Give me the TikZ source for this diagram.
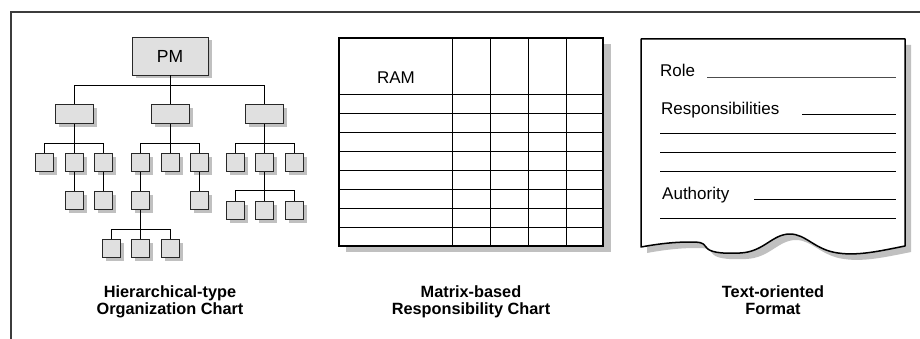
\documentclass[tikz,border=0pt]{standalone}
\usepackage{fontspec}
\setmainfont{Liberation Sans}
\usetikzlibrary{positioning,shadows}
\definecolor{boxgray}{RGB}{224,224,224}
\definecolor{shadowgray}{RGB}{192,192,192}
\definecolor{framegray}{RGB}{60,60,60}
\definecolor{edgegray}{RGB}{40,40,40}

\tikzset{
  orgbox/.style={draw=edgegray, fill=boxgray, line width=0.9pt, inner sep=0pt,
    minimum width=18pt, minimum height=18pt,
    general shadow={fill=shadowgray, shadow xshift=3.5pt, shadow yshift=-3.5pt}},
  midbox/.style={orgbox, minimum width=38pt, minimum height=19pt},
  pmbox/.style={orgbox, minimum width=76pt, minimum height=38pt,
    font=\fontsize{17.5}{20}\selectfont},
  conn/.style={line width=0.9pt},
  formtext/.style={anchor=base west, inner sep=0pt, font=\fontsize{17}{20}\selectfont},
  formline/.style={line width=0.9pt},
  caption/.style={align=center, anchor=base, inner sep=0pt,
    font=\fontsize{16.3}{17}\selectfont\bfseries}
}

% bottom edge of the sheet is torn
\def\sheetpath{(641,39) -- (905,39) -- (905,246)
  .. controls (880,251) and (858,256) .. (838,253)
  .. controls (815,250) and (806,234) .. (790,234)
  .. controls (772,234) and (764,252) .. (740,253)
  .. controls (720,254) and (709,252) .. (706,247)
  .. controls (703,242) and (699,242) .. (690,242)
  .. controls (670,242) and (652,245) .. (641,247) -- cycle}

\begin{document}
\begin{tikzpicture}[x=1pt, y=-1pt]
    \useasboundingbox (0,0) rectangle (920,339);
    \draw[framegray, line width=2pt] (920,12) -- (11,12) -- (11,339);

    % organization chart
    \node[pmbox] (pm) at (170,56) {PM};
    \node[midbox, below=29pt of pm] (mb) {};
    \node[midbox, left=57pt of mb] (ma) {};
    \node[midbox, right=56pt of mb] (mc) {};

    \node[orgbox, below=29pt of ma] (a2) {};
    \node[orgbox, left=10.5pt of a2] (a1) {};
    \node[orgbox, right=10.5pt of a2] (a3) {};
    \node[orgbox, below=19pt of a2] (a2s) {};
    \node[orgbox, below=19pt of a3] (a3s) {};

    \node[orgbox, below=29pt of mb] (b2) {};
    \node[orgbox, left=10.5pt of b2] (b1) {};
    \node[orgbox, right=10.5pt of b2] (b3) {};
    \node[orgbox, below=19pt of b1] (b1s) {};
    \node[orgbox, below=19pt of b3] (b3s) {};
    \node[orgbox, below=29pt of b1s] (b5) {};
    \node[orgbox, left=10.5pt of b5] (b4) {};
    \node[orgbox, right=10.5pt of b5] (b6) {};

    \node[orgbox, below=29pt of mc] (c2) {};
    \node[orgbox, left=10.5pt of c2] (c1) {};
    \node[orgbox, right=10.5pt of c2] (c3) {};
    \node[orgbox, below=29pt of c2] (c5) {};
    \node[orgbox, left=10.5pt of c5] (c4) {};
    \node[orgbox, right=10.5pt of c5] (c6) {};

    \draw[conn] (pm) -- (mb);
    \draw[conn] (ma.north) -- ++(0,-19) -| (mc.north);
    \draw[conn] (ma) -- (a2);
    \draw[conn] (a1.north) -- ++(0,-10) -| (a3.north);
    \draw[conn] (a2) -- (a2s);
    \draw[conn] (a3) -- (a3s);
    \draw[conn] (mb) -- (b2);
    \draw[conn] (b1.north) -- ++(0,-10) -| (b3.north);
    \draw[conn] (b1) -- (b1s);
    \draw[conn] (b3) -- (b3s);
    \draw[conn] (b1s) -- (b5);
    \draw[conn] (b4.north) -- ++(0,-10) -| (b6.north);
    \draw[conn] (mc) -- (c2);
    \draw[conn] (c1.north) -- ++(0,-10) -| (c3.north);
    \draw[conn] (c2) -- (c5);
    \draw[conn] (c4.north) -- ++(0,-11) -| (c6.north);

    % responsibility matrix
    \fill[shadowgray] (346,44) rectangle (611,252);
    \draw[fill=white, line width=1.8pt] (339,38) rectangle (603,246);
    \foreach \yy in {94,113,...,227}
        \draw[formline] (339,\yy) -- (603,\yy);
    \foreach \xx in {452,490,528,566}
        \draw[formline] (\xx,38) -- (\xx,246);
    \node[font=\fontsize{17}{20}\selectfont, inner sep=0pt] (ram) at (396,78) {RAM};

    % text form
    \fill[shadowgray, shift={(6,6)}] \sheetpath;
    \draw[fill=white, line width=1.5pt, line join=round] \sheetpath;
    \node[formtext] (role) at (660,77) {Role};
    \node[formtext] (resp) at (661,115) {Responsibilities};
    \node[formtext] (auth) at (662,199) {Authority};
    \draw[formline, black!70] (707,77) -- (896,77);
    \draw[formline] (802,114) -- (896,114);
    \foreach \yy in {133,152,171,218}
        \draw[formline] (660,\yy) -- (896,\yy);
    \draw[formline] (754,199) -- (896,199);

    % captions
    \node[caption] (capa) at (170,314) {Hierarchical-type\\Organization Chart};
    \node[caption] (capb) at (471,314) {Matrix-based\\Responsibility Chart};
    \node[caption] (capc) at (773,314) {Text-oriented\\Format};
\end{tikzpicture}
\end{document}
